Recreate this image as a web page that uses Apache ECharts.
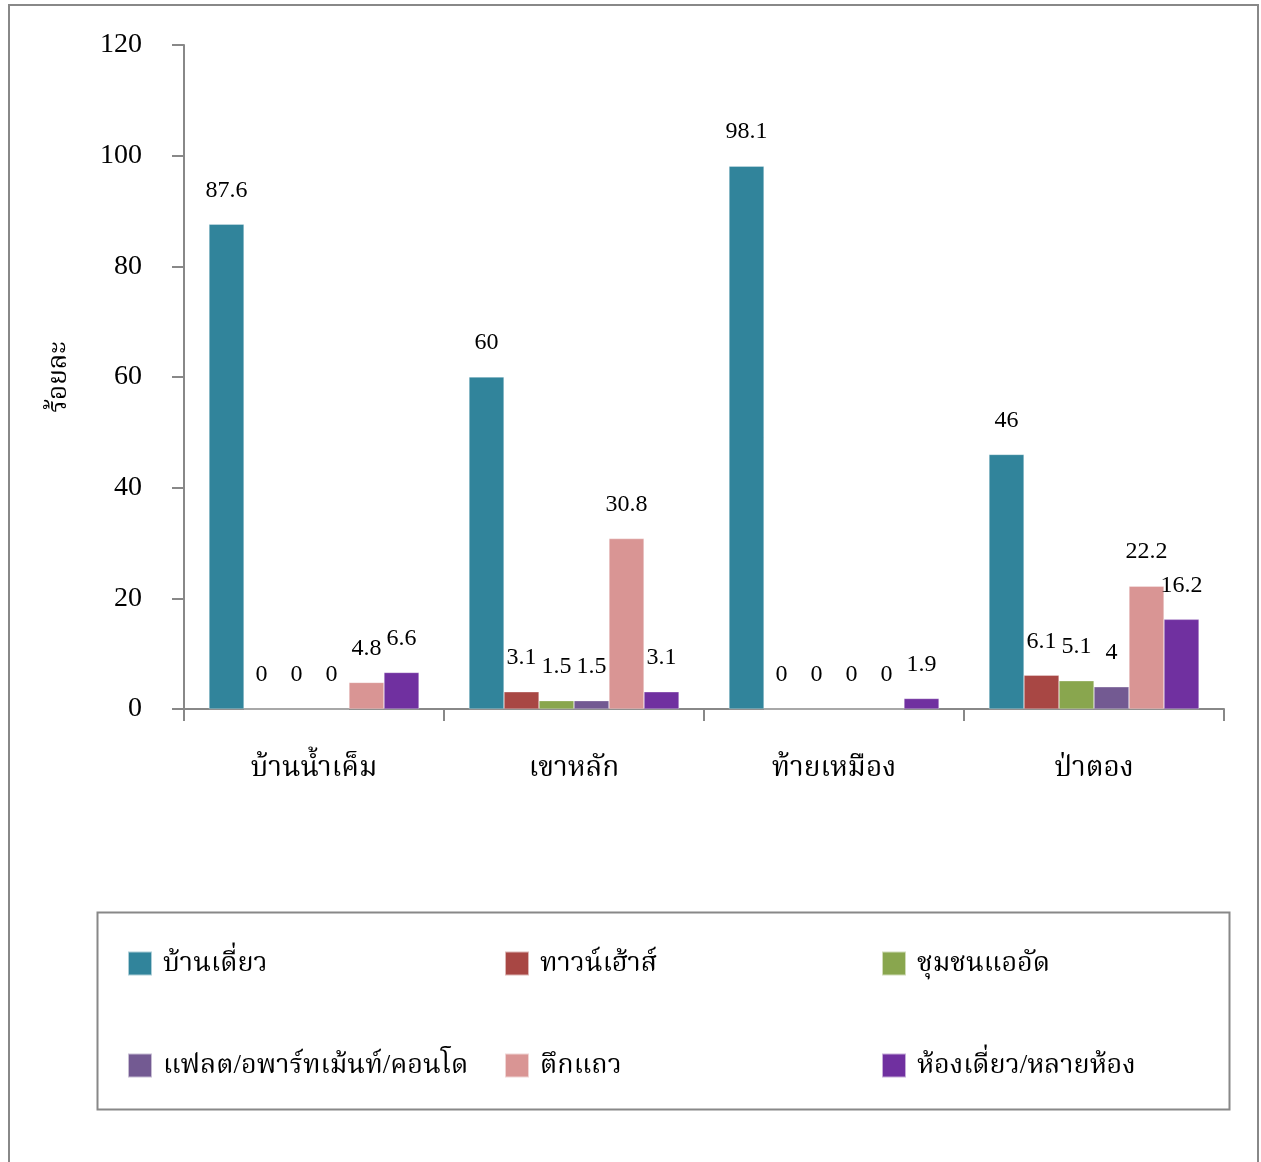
<!DOCTYPE html>
<html><head><meta charset="utf-8">
<script src="https://cdn.jsdelivr.net/npm/echarts@6/dist/echarts.min.js"></script>
<style>html,body{margin:0;padding:0;background:#fff}#c{width:1261px;height:1162px}</style>
</head><body><div id="c"></div>
<script>
const categories = ['บ้านน้ำเค็ม', 'เขาหลัก', 'ท้ายเหมือง', 'ป่าตอง'];
const seriesNames = ['บ้านเดี่ยว', 'ทาวน์เฮ้าส์', 'ชุมชนแออัด', 'แฟลต/อพาร์ทเม้นท์/คอนโด', 'ตึกแถว', 'ห้องเดี่ยว/หลายห้อง'];
const singleHouse = [87.6, 60, 98.1, 46];
const townhouse = [0, 3.1, 0, 6.1];
const slum = [0, 1.5, 0, 5.1];
const flat = [0, 1.5, 0, 4];
const shophouse = [4.8, 30.8, 0, 22.2];
const room = [6.6, 3.1, 1.9, 16.2];
const yTicks = [0, 20, 40, 60, 80, 100, 120];
const colors = ['#31849B', '#A84744', '#89A64E', '#735A92', '#D99594', '#7030A0'];

const FONT = '"Liberation Serif", "Noto Serif Thai", "Noto Sans Thai", serif';
const values = [singleHouse, townhouse, slum, flat, shophouse, room];

const chart = echarts.init(document.getElementById('c'));
chart.setOption({
  animation: false,
  textStyle: { fontFamily: FONT },
  color: colors,
  grid: { left: 184, top: 45, right: 37, height: 664 },
  xAxis: {
    type: 'category', data: categories,
    axisLine: { lineStyle: { color: '#888', width: 2 } },
    axisTick: { show: true, length: 12, lineStyle: { color: '#888', width: 2 } },
    axisLabel: { color: '#000', fontSize: 28, margin: 46, fontFamily: FONT }
  },
  yAxis: {
    type: 'value', min: yTicks[0], max: yTicks[yTicks.length - 1], interval: 20,
    name: 'ร้อยละ', nameLocation: 'middle', nameGap: 112,
    nameTextStyle: { color: '#000', fontSize: 26, fontFamily: FONT },
    axisLine: { show: true, lineStyle: { color: '#888', width: 2 } },
    axisTick: { show: true, length: 12, lineStyle: { color: '#888', width: 2 } },
    splitLine: { show: false },
    axisLabel: { color: '#000', fontSize: 28, margin: 42, fontFamily: FONT }
  },
  legend: [0, 1, 2].map(col => ({
    orient: 'vertical',
    left: 127 + col * 377, top: 950, padding: 0,
    itemWidth: 24, itemHeight: 24, itemGap: 75,
    icon: 'rect',
    textStyle: { fontSize: 27, color: '#000', fontFamily: FONT, padding: [0, 0, 0, 6] },
    data: [seriesNames[col], seriesNames[col + 3]]
  })),
  graphic: [
    { type: 'rect', shape: { x: 9, y: 5, width: 1249, height: 1200 }, style: { fill: 'none', stroke: '#888', lineWidth: 2 }, z: -1 },
    { type: 'rect', shape: { x: 97.5, y: 912.5, width: 1132, height: 197 }, style: { fill: 'none', stroke: '#888', lineWidth: 2 }, z: -1 }
  ],
  series: seriesNames.map((n, i) => ({
    name: n, type: 'bar', data: values[i],
    barWidth: 35, barGap: '0%',
    itemStyle: { color: colors[i], borderColor: 'rgba(255,255,255,0.6)', borderWidth: 0.5 },
    label: { show: true, position: 'top', distance: 22, color: '#000', fontSize: 24, fontFamily: FONT }
  }))
});
</script></body></html>
